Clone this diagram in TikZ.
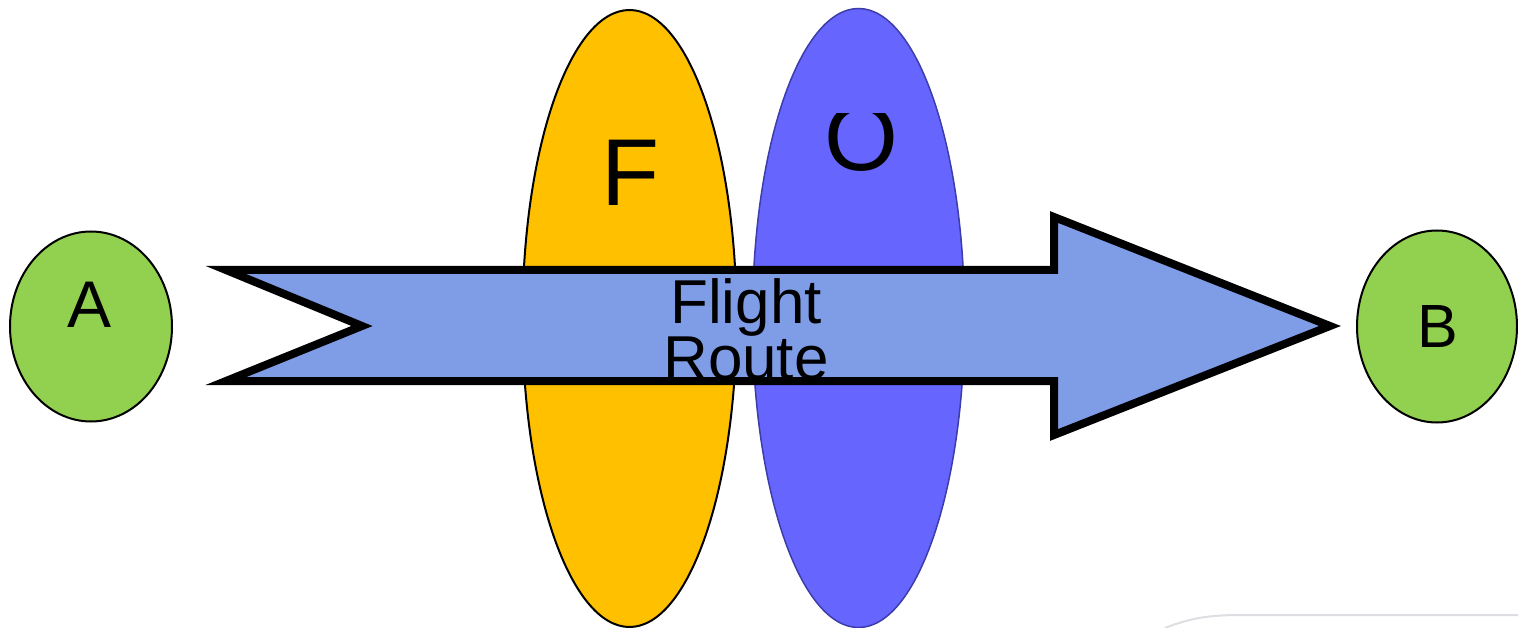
\documentclass[tikz,border=0pt]{standalone}
\usepackage{fontspec}
\setmainfont{Liberation Sans}
\usetikzlibrary{shapes.geometric}
\definecolor{nodegreen}{RGB}{146,208,80}
\definecolor{fyellow}{RGB}{255,192,0}
\definecolor{oblue}{RGB}{102,102,255}
\definecolor{oedge}{RGB}{60,60,170}
\definecolor{arrowfill}{RGB}{127,157,231}
\definecolor{faintgrey}{RGB}{222,222,226}
\tikzset{
  endpt/.style={ellipse, draw=black, line width=2pt, fill=nodegreen, inner sep=0pt},
  zone/.style={ellipse, line width=2pt, inner sep=0pt},
  lbl/.style={inner sep=0pt, anchor=base, text=black},
  routearrow/.style={draw=black, fill=arrowfill, line width=8pt, line join=miter},
}
\begin{document}
\begin{tikzpicture}[x=1pt,y=-1pt]
\useasboundingbox (0,0) rectangle (1518,628);
% faint artefact bottom right
\draw[faintgrey, line width=2pt] (1165,628) .. controls (1190,618) and (1210,615) .. (1240,615) -- (1518,615);
% zones
\node[zone, draw=black, fill=fyellow, minimum width=214pt, minimum height=617pt] (F) at (629.5,318.5) {};
\node[zone, draw=oedge, line width=1.5pt, fill=oblue, minimum width=212pt, minimum height=619pt] (O) at (858.5,318) {};
\node[lbl, font=\fontsize{95}{95}\selectfont] (Flbl) at (631,206) {F};
\begin{scope}
  \clip (780,114) rectangle (940,200);
  \node[lbl, font=\fontsize{95}{95}\selectfont] (Olbl) at (861,171) {O};
\end{scope}
% endpoints
\node[endpt, minimum width=162pt, minimum height=190pt] (A) at (91,326.5) {};
\node[lbl, font=\fontsize{66}{66}\selectfont] (Albl) at (90,327) {A};
\node[endpt, minimum width=160pt, minimum height=192pt] (B) at (1437,326.5) {};
\node[lbl, font=\fontsize{61}{61}\selectfont] (Blbl) at (1438,348) {B};
% arrow
\coordinate (t1) at (226,270);
\coordinate (t2) at (1054,270);
\coordinate (t3) at (1054,217);
\coordinate (tip) at (1330,326);
\coordinate (b3) at (1054,435);
\coordinate (b2) at (1054,381);
\coordinate (b1) at (226,381);
\coordinate (notch) at (362,326);
\draw[routearrow] (t1) -- (t2) -- (t3) -- (tip) -- (b3) -- (b2) -- (b1) -- (notch) -- cycle;
\node[inner sep=0pt, align=center, font=\fontsize{62}{52}\selectfont] (route) at (746,329.5) {Flight\\Route};
\end{tikzpicture}
\end{document}
